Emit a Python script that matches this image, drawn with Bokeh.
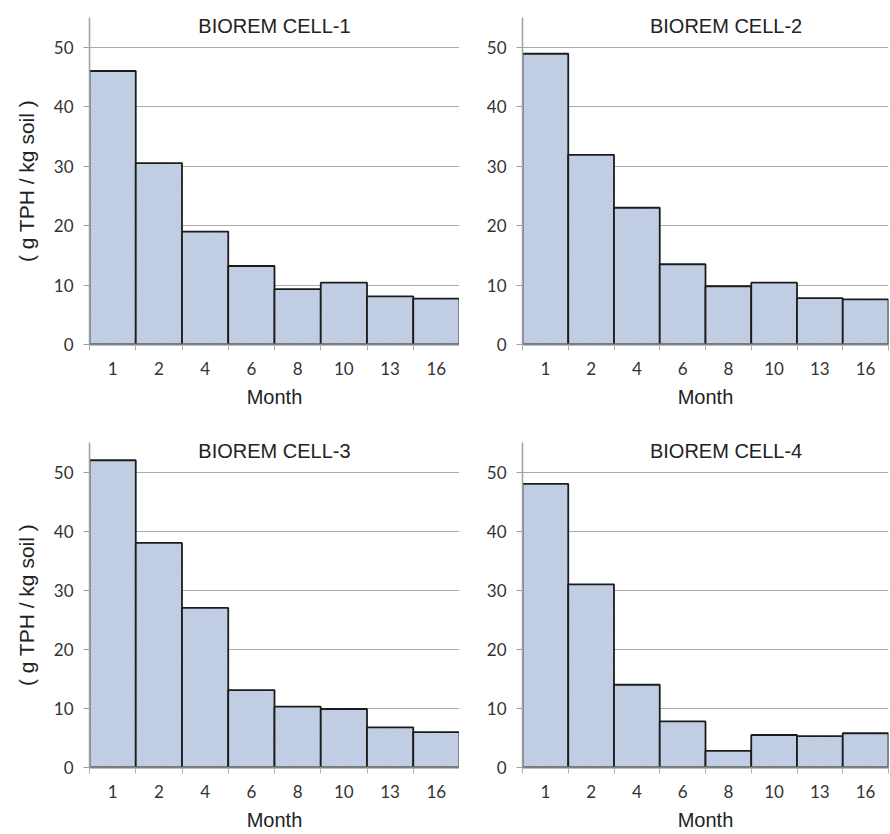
from bokeh.plotting import figure
from bokeh.layouts import column, row
from bokeh.models import Range1d, FixedTicker, Label, ColumnDataSource
from bokeh.embed import file_html
from bokeh.resources import INLINE
import numpy as np

# ---- data ----
months = ["1", "2", "4", "6", "8", "10", "13", "16"]
cell1 = [46.0, 30.5, 19.0, 13.2, 9.3, 10.4, 8.1, 7.7]
cell2 = [48.9, 31.9, 23.0, 13.5, 9.8, 10.4, 7.8, 7.6]
cell3 = [52.0, 38.0, 27.0, 13.1, 10.3, 9.9, 6.8, 6.0]
cell4 = [48.0, 31.0, 14.0, 7.8, 2.8, 5.5, 5.3, 5.8]
titles = ["BIOREM CELL-1", "BIOREM CELL-2", "BIOREM CELL-3", "BIOREM CELL-4"]
y_ticks = [0, 10, 20, 30, 40, 50]
y_max = 55
y_label = "( g TPH / kg soil )"
x_label = "Month"

TEXT_FONT = "Liberation Sans"
TICK_FONT = "Lato"


def make_panel(values, title, left, bottom_row):
    n = len(months)
    centers = list(np.arange(n) + 0.5)
    bounds = list(range(n + 1))
    if left:
        bl, br, plot_w = 89, 0, 370
    else:
        bl, br, plot_w = 63, 1, 366
    if bottom_row:
        bt, bb = 9, 64
    else:
        bt, bb = 17, 89
    plot_h = 327
    p = figure(width=bl + plot_w + br, height=bt + plot_h + bb,
               x_range=Range1d(0, n), y_range=Range1d(0, y_max),
               output_backend="svg", toolbar_location=None,
               min_border_left=bl, min_border_right=br,
               min_border_top=bt, min_border_bottom=bb)
    p.outline_line_color = None
    p.background_fill_color = "white"
    p.border_fill_color = "white"

    src = ColumnDataSource(dict(x=centers, top=values))
    p.vbar(x="x", top="top", bottom=0, width=1.0, source=src,
           fill_color="#d2def0", line_color="#1c1c1c", line_width=1.8,
           hatch_pattern="\\", hatch_color="#8596b8", hatch_weight=0.7,
           hatch_scale=3.5, hatch_alpha=0.6)

    # x axis
    xa = p.xaxis[0]
    xa.ticker = FixedTicker(ticks=centers, minor_ticks=bounds)
    xa.major_label_overrides = {c: m for c, m in zip(centers, months)}
    xa.major_tick_line_color = None
    xa.major_tick_out = 0
    xa.major_tick_in = 0
    xa.minor_tick_out = 6
    xa.minor_tick_in = 0
    xa.minor_tick_line_color = "#b0b0b0"
    xa.axis_line_color = "#808080"
    xa.axis_line_width = 2
    xa.major_label_standoff = 11
    xa.major_label_text_font = TICK_FONT
    xa.major_label_text_font_size = "17px"
    xa.major_label_text_color = "#333333"
    xa.axis_label = x_label
    xa.axis_label_text_font = TEXT_FONT
    xa.axis_label_text_font_size = "20px"
    xa.axis_label_text_font_style = "normal"
    xa.axis_label_text_color = "#222222"
    xa.axis_label_standoff = 8

    # y axis
    ya = p.yaxis[0]
    ya.ticker = FixedTicker(ticks=y_ticks)
    ya.major_tick_out = 6
    ya.major_tick_in = 0
    ya.major_tick_line_color = "#a0a0a0"
    ya.minor_tick_line_color = None
    ya.axis_line_color = "#a0a0a0"
    ya.axis_line_width = 1.5
    ya.major_label_standoff = 10
    ya.major_label_text_font = TICK_FONT
    ya.major_label_text_font_size = "17px"
    ya.major_label_text_color = "#333333"
    if left:
        ya.axis_label = y_label
        ya.axis_label_text_font = TEXT_FONT
        ya.axis_label_text_font_size = "21px"
        ya.axis_label_text_font_style = "normal"
        ya.axis_label_text_color = "#222222"
        ya.axis_label_standoff = 13

    p.xgrid.visible = False
    p.ygrid.grid_line_color = "#aaaaaa"
    p.ygrid.grid_line_width = 1.2

    p.add_layout(Label(x=4.0 if left else 4.45, y=53.5, text=title,
                       text_align="center", text_baseline="middle",
                       text_font=TEXT_FONT, text_font_size="20px",
                       text_color="#222222"))
    return p


p1 = make_panel(cell1, titles[0], True, False)
p2 = make_panel(cell2, titles[1], False, False)
p3 = make_panel(cell3, titles[2], True, True)
p4 = make_panel(cell4, titles[3], False, True)

layout = column(row(p1, p2), row(p3, p4))

open("out.html", "w").write(file_html(layout, INLINE))
